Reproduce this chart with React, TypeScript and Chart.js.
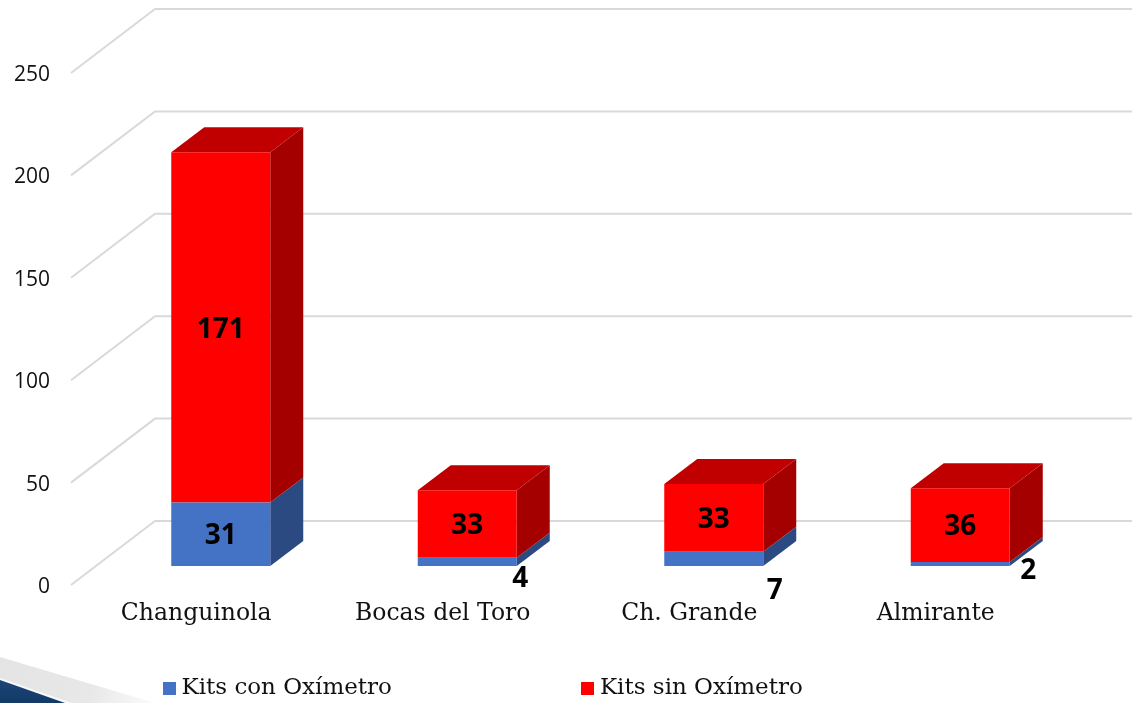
import React, { useEffect, useRef } from "react";
import { Chart, registerables } from "chart.js";

Chart.register(...registerables);

const categories = ["Changuinola", "Bocas del Toro", "Ch. Grande", "Almirante"];
const conOximetro = [31, 4, 7, 2];
const sinOximetro = [171, 33, 33, 36];
const seriesNames = ["Kits con Oxímetro", "Kits sin Oxímetro"];
const yTicks = [0, 50, 100, 150, 200, 250];
const conLabelOffsets: [number, number][] = [[0, 2], [53, 17], [61, 32], [68, 7]];
const sinLabelOffsets: [number, number][] = [[0, 3], [0, 2], [0, 2], [0, 2]];

const SERIF = "'DejaVu Serif'";
const SANS = "'Open Sans'";
const LEGEND_FONT = 23;
const GRID = "#d9d9d9";
const WALL = { dx: 84, dy: -64 };
const BAR = { dx: 24.5, dy: -19, depthX: 33, depthY: -25 };
const faces = [
  { front: "#4472C4", side: "#2C4A82", top: "#3A62A8" },
  { front: "#FF0000", side: "#A50000", top: "#C00000" },
];

function swatch(color: string) {
  const c = document.createElement("canvas");
  c.width = 13;
  c.height = 13;
  const g = c.getContext("2d")!;
  g.fillStyle = color;
  g.fillRect(0, 0, 13, 13);
  return c;
}

function poly(ctx: CanvasRenderingContext2D, pts: number[][], color: any) {
  ctx.fillStyle = color;
  ctx.beginPath();
  pts.forEach(([x, y], i) => (i ? ctx.lineTo(x, y) : ctx.moveTo(x, y)));
  ctx.closePath();
  ctx.fill();
}

const scene = {
  id: "scene",
  beforeDraw(chart: any) {
    const { ctx, scales, legend, width } = chart;
    // page decoration in the lower-left corner
    ctx.save();
    const g = ctx.createLinearGradient(0, 657, 155, 703);
    g.addColorStop(0, "#e4e4e4");
    g.addColorStop(0.6, "#e8e8e8");
    g.addColorStop(1, "#fbfbfb");
    poly(ctx, [[0, 657], [155, 703], [0, 703]], g);
    poly(ctx, [[0, 678], [72, 703], [0, 703]], "#f6f8fa");
    const b = ctx.createLinearGradient(0, 680, 0, 703);
    b.addColorStop(0, "#1c4476");
    b.addColorStop(1, "#133a66");
    poly(ctx, [[0, 680], [65, 703], [0, 703]], b);
    ctx.restore();

    // legend spread across the bottom
    const pad = 195.5;
    legend.options.labels.padding = pad;
    legend.left = 169 - pad;
    legend.right = width + 600;
    legend.top = 677 - pad;

    // walls
    ctx.save();
    ctx.strokeStyle = GRID;
    ctx.lineWidth = 2;
    const x0 = scales.x.left - 2;
    yTicks.forEach((t) => {
      const y = scales.y.getPixelForValue(t);
      ctx.beginPath();
      ctx.moveTo(x0, y);
      ctx.lineTo(x0 + WALL.dx, y + WALL.dy);
      ctx.lineTo(width, y + WALL.dy);
      ctx.stroke();
    });
    ctx.restore();
  },
  beforeDatasetsDraw(chart: any) {
    const { ctx } = chart;
    const last = chart.data.datasets.length - 1;
    chart.data.datasets.forEach((_: any, di: number) => {
      chart.getDatasetMeta(di).data.forEach((bar: any) => {
        const right = bar.x + bar.width / 2 + BAR.dx;
        const left = bar.x - bar.width / 2 + BAR.dx;
        const top = bar.y + BAR.dy;
        const base = bar.base + BAR.dy;
        const dx = BAR.depthX;
        const dy = BAR.depthY;
        poly(ctx, [[right, top], [right + dx, top + dy], [right + dx, base + dy], [right, base]], faces[di].side);
        if (di === last) {
          poly(ctx, [[left, top], [left + dx, top + dy], [right + dx, top + dy], [right, top]], faces[di].top);
        }
      });
    });
    ctx.save();
    ctx.translate(BAR.dx, BAR.dy);
  },
  afterDatasetsDraw(chart: any) {
    const { ctx } = chart;
    ctx.restore();
    ctx.save();
    ctx.font = `bold 28px ${SANS}`;
    ctx.fillStyle = "#000";
    ctx.textAlign = "center";
    ctx.textBaseline = "middle";
    const offsets = [conLabelOffsets, sinLabelOffsets];
    chart.data.datasets.forEach((ds: any, di: number) => {
      chart.getDatasetMeta(di).data.forEach((bar: any, i: number) => {
        const [ox, oy] = offsets[di][i];
        const cy = (bar.y + bar.base) / 2 + BAR.dy;
        ctx.fillText(String(ds.data[i]), bar.x + BAR.dx + ox, cy + oy);
      });
    });
    ctx.restore();
  },
};

export default function App() {
  const ref = useRef<HTMLCanvasElement>(null);
  useEffect(() => {
    document.body.style.margin = "0";
    document.body.style.background = "#fff";
    const chart = new Chart(ref.current!, {
      type: "bar",
      data: {
        labels: categories,
        datasets: [
          { label: seriesNames[0], data: conOximetro, backgroundColor: faces[0].front, stack: "s" },
          { label: seriesNames[1], data: sinOximetro, backgroundColor: faces[1].front, stack: "s" },
        ],
      },
      plugins: [scene],
      options: {
        animation: false,
        responsive: false,
        devicePixelRatio: 1,
        layout: { padding: { top: 73, right: 73, left: 0, bottom: 0 } },
        datasets: { bar: { barPercentage: 0.4016, categoryPercentage: 1 } },
        scales: {
          x: {
            stacked: true,
            grid: { display: false, drawTicks: false },
            border: { display: false },
            ticks: { color: "#111", padding: 15, maxRotation: 0, autoSkip: false, font: { family: SERIF, size: 23.5 } },
            afterFit: (s: any) => { s.height = 75; },
          },
          y: {
            stacked: true,
            min: 0,
            max: 250,
            grid: { display: false, drawTicks: false },
            border: { display: false },
            ticks: { stepSize: 50, color: "#111", padding: 23, labelOffset: 2, font: { family: SANS, size: 21 } },
            afterFit: (s: any) => { s.width = 73; },
          },
        },
        plugins: {
          tooltip: { enabled: false },
          legend: {
            position: "bottom",
            align: "start",
            labels: {
              color: "#111",
              font: { family: SERIF, size: LEGEND_FONT },
              boxWidth: 1,
              usePointStyle: true,
              padding: 10,
              generateLabels: (c: any) =>
                c.data.datasets.map((d: any, i: number) => ({
                  text: d.label,
                  datasetIndex: i,
                  pointStyle: swatch(d.backgroundColor),
                  fontColor: "#111",
                })),
            },
          },
        },
      } as any,
    });
    return () => chart.destroy();
  }, []);
  return <canvas ref={ref} width={1132} height={703} style={{ display: "block", width: 1132, height: 703 }} />;
}
